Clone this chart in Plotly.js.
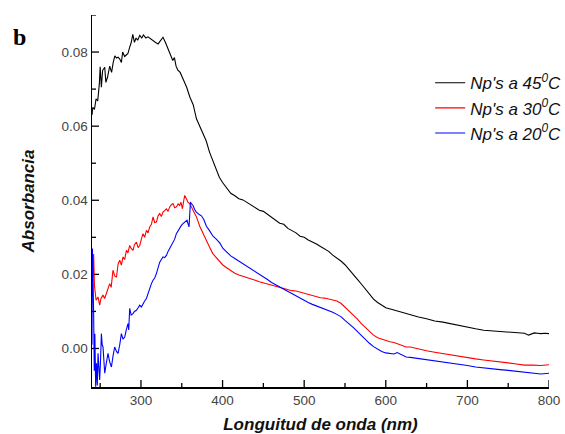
<!DOCTYPE html>
<html>
<head>
<meta charset="utf-8">
<script src="https://cdn.plot.ly/plotly-3.0.1.min.js"></script>
<style>html,body{margin:0;padding:0;background:#fff;}#chart{width:565px;height:434px;}</style>
</head>
<body>
<div id="chart"></div>
<script>
// ---- Data ----
var seriesNames = ["Np's a 45<sup>0</sup>C", "Np's a 30<sup>0</sup>C", "Np's a 20<sup>0</sup>C"];

var x45 = [240,241,243,245,247,249,250,251.5,253,255.6,257,259,261.7,264,266,268,270,272,274,276,277.6,280,282,284,286,288,290,292,294,296,298.5,301,303,304.6,306,308.6,312,314.8,318,321,324,327,330,333,336,339,341,343,345,348,352,356,360,364,368,372,376,380,384,388,392,396,400,405,410,415,420,425,430,435,440,445,450,455,460,465,470,475,480,485,490,495,500,505,510,515,520,525,530,535,540,545,550,555,560,565,570,575,580,585,590,595,600,610,620,630,640,650,660,670,680,690,700,710,720,730,740,750,760,770,775,778,782,786,790,795,800];
var y45 = [0.0630,0.0651,0.0645,0.0674,0.0668,0.0714,0.0760,0.0705,0.0750,0.0759,0.0718,0.0732,0.0762,0.0745,0.0772,0.0790,0.0784,0.0786,0.0781,0.0772,0.0800,0.0788,0.0792,0.0796,0.0812,0.0825,0.0848,0.0826,0.0838,0.0832,0.0845,0.0838,0.0846,0.0843,0.0838,0.0841,0.0835,0.0831,0.0826,0.0822,0.0830,0.0840,0.0826,0.0808,0.0795,0.0777,0.0785,0.0762,0.0752,0.0745,0.0725,0.0705,0.0678,0.0658,0.0620,0.0600,0.0578,0.0560,0.0530,0.0508,0.0482,0.0462,0.0448,0.0432,0.0419,0.0412,0.0404,0.0401,0.0394,0.0388,0.0381,0.0373,0.0370,0.0362,0.0353,0.0347,0.0338,0.0335,0.0324,0.0318,0.0312,0.0303,0.0300,0.0293,0.0288,0.0282,0.0275,0.0268,0.0262,0.0252,0.0245,0.0236,0.0226,0.0214,0.0200,0.0187,0.0174,0.0160,0.0146,0.0133,0.0124,0.0116,0.0110,0.0104,0.0097,0.0091,0.0085,0.0080,0.0074,0.0071,0.0066,0.0061,0.0057,0.0053,0.0049,0.0047,0.0045,0.0044,0.0042,0.0041,0.0036,0.0038,0.0042,0.0041,0.0040,0.0041,0.0040];

var x30 = [240,241,242,243,245,247.4,249.4,251,253.5,255.5,257.6,259.5,261.7,263.5,265.7,268,270,272,274,276,278,280,282.2,284,286.2,288,290.2,292,294.4,296.5,298.5,300.5,302.5,304.5,306.7,308.7,310.7,312.8,314.8,316.8,318.9,321,323,325,327,329,331.2,333.2,335.2,337.3,339.3,341.3,343.4,345.5,347.5,349,350.8,352.5,353.6,355.5,357.6,360,362,365,368,372,376,380,384,388,392,396.5,400,405,410,415,420,425,430,435,440,445,450,455,460,465,470,475,480,485,490,495,500,505,510,515,520,525,530,535,540,545,550,555,560,565,570,575,580,585,590,595,600,605,610,615,620,625,630,640,650,660,670,680,690,700,710,720,730,740,750,760,770,780,790,800];
var y30 = [0.0139,0.0200,0.0255,0.0170,0.0130,0.0139,0.0117,0.0135,0.0144,0.0135,0.0148,0.0160,0.0175,0.0165,0.0211,0.0195,0.0193,0.0228,0.0238,0.0225,0.0247,0.0240,0.0265,0.0258,0.0278,0.0270,0.0265,0.0280,0.0287,0.0272,0.0278,0.0295,0.0310,0.0300,0.0319,0.0312,0.0328,0.0335,0.0355,0.0340,0.0341,0.0358,0.0364,0.0356,0.0368,0.0372,0.0377,0.0370,0.0382,0.0388,0.0391,0.0380,0.0382,0.0390,0.0386,0.0395,0.0377,0.0400,0.0413,0.0405,0.0395,0.0390,0.0382,0.0370,0.0355,0.0330,0.0310,0.0292,0.0274,0.0256,0.0246,0.0235,0.0226,0.0218,0.0210,0.0203,0.0198,0.0195,0.0191,0.0188,0.0184,0.0180,0.0177,0.0174,0.0170,0.0168,0.0166,0.0162,0.0158,0.0156,0.0155,0.0152,0.0149,0.0146,0.0142,0.0139,0.0137,0.0136,0.0133,0.0131,0.0128,0.0122,0.0112,0.0100,0.0090,0.0080,0.0067,0.0056,0.0046,0.0036,0.0029,0.0025,0.0021,0.0018,0.0016,0.0012,0.0008,0.0004,0.0004,-0.0002,-0.0006,-0.0010,-0.0014,-0.0018,-0.0022,-0.0025,-0.0028,-0.0031,-0.0033,-0.0036,-0.0039,-0.0042,-0.0045,-0.0045,-0.0046,-0.0044];

var x20 = [240,240.5,241.2,242,242.8,243.5,244.5,245.5,246.5,247.4,248.3,249.4,250.5,251.5,252.5,253.5,254.5,255.6,257.5,259.6,261.5,263.8,265.8,267.8,270,271.9,274,276,278,280.1,282,284.1,285,286.2,288,290.2,292,294.4,296.5,298.5,300.5,302.5,304.5,306.7,308.7,310.7,312.8,314.8,316.8,318.9,321,323,325,327,329,331.2,333.2,335.2,337.3,339.3,341.3,343.4,345.5,347.5,349.5,351.5,354,356.4,358.9,360.6,362,363.8,365.8,367.9,371,374.1,377,380.2,384,388.3,392,396.5,400.5,405,410,415,420,425,430,435,440,445,450,455,460,465,470,475,480,485,490,495,500,505,510,515,520,525,530,535,540,545,550,555,560,565,570,575,580,585,590,595,600,605,610,614,617,620,625,630,640,650,660,670,680,690,700,710,720,730,740,750,760,770,780,790,800];
var y20 = [0.0010,0.0270,0.0200,0.0094,-0.0060,0.0040,-0.0103,-0.0040,-0.0100,-0.0013,-0.0050,-0.0085,-0.0030,0.0040,0.0010,0.0004,-0.0030,-0.0067,-0.0040,-0.0013,-0.0035,-0.0050,-0.0020,0.0004,-0.0008,-0.0013,0.0010,0.0040,0.0025,0.0031,0.0050,0.0067,0.0050,0.0108,0.0090,0.0094,0.0100,0.0103,0.0110,0.0117,0.0112,0.0121,0.0128,0.0135,0.0150,0.0166,0.0175,0.0184,0.0190,0.0202,0.0218,0.0233,0.0240,0.0247,0.0245,0.0251,0.0262,0.0270,0.0275,0.0283,0.0295,0.0310,0.0318,0.0328,0.0332,0.0337,0.0342,0.0346,0.0328,0.0395,0.0390,0.0386,0.0375,0.0368,0.0362,0.0358,0.0348,0.0330,0.0318,0.0303,0.0296,0.0285,0.0270,0.0260,0.0250,0.0243,0.0236,0.0229,0.0222,0.0215,0.0209,0.0200,0.0193,0.0186,0.0178,0.0172,0.0166,0.0160,0.0152,0.0146,0.0140,0.0135,0.0130,0.0124,0.0119,0.0115,0.0111,0.0108,0.0103,0.0098,0.0092,0.0086,0.0076,0.0067,0.0057,0.0046,0.0035,0.0024,0.0014,0.0005,-0.0002,-0.0008,-0.0012,-0.0014,-0.0015,-0.0011,-0.0014,-0.0019,-0.0023,-0.0024,-0.0027,-0.0029,-0.0032,-0.0035,-0.0038,-0.0042,-0.0046,-0.0050,-0.0053,-0.0055,-0.0057,-0.0059,-0.0061,-0.0063,-0.0066,-0.0069,-0.0067];

var xRange = [240, 800], yRange = [-0.0104, 0.09];
var xMajorTicks = [300,400,500,600,700,800];
var xMinorTicks = [250,350,450,550,650,750];
var yMajorTicks = [0.00,0.02,0.04,0.06,0.08];
var yMajorText = ["0.00","0.02","0.04","0.06","0.08"];
var yMinorTicks = [0.01,0.03,0.05,0.07,0.09];

// ---- Plot ----
var W = 565, H = 434, M = {l:92, r:16, t:15, b:47};
var plotW = W - M.l - M.r, plotH = H - M.t - M.b;
var xPerPx = (xRange[1] - xRange[0]) / plotW, yPerPx = (yRange[1] - yRange[0]) / plotH;

// inside tick marks, built from the tick arrays and placed through the axes' scales
function tickTrace(xs, ys){
  return {x:xs, y:ys, type:'scatter', mode:'lines', line:{color:'#000', width:1.3},
          showlegend:false, hoverinfo:'skip', cliponaxis:false};
}
var tx = [], ty = [];
function addX(v, len){ tx.push(v, v, null); ty.push(yRange[0], yRange[0] + len * yPerPx, null); }
function addY(v, len){ tx.push(xRange[0], xRange[0] + len * xPerPx, null); ty.push(v, v, null); }
xMajorTicks.forEach(function(v){ addX(v, 7); });
xMinorTicks.forEach(function(v){ addX(v, 4); });
yMajorTicks.forEach(function(v){ addY(v, 7); });
yMinorTicks.forEach(function(v){ addY(v, 4); });

var colors = ["#000000","#ff0000","#0000ff"];
var traces = [
  tickTrace(tx, ty),
  {x:x45, y:y45, name:seriesNames[0], type:'scatter', mode:'lines', line:{color:colors[0], width:1.1}},
  {x:x30, y:y30, name:seriesNames[1], type:'scatter', mode:'lines', line:{color:colors[1], width:1.1}},
  {x:x20, y:y20, name:seriesNames[2], type:'scatter', mode:'lines', line:{color:colors[2], width:1.1}}
];

var axisFont = {family:'Liberation Sans, Arial, sans-serif', size:13.5, color:'#444'};
var titleFont = {family:'Liberation Sans, Arial, sans-serif', size:17, color:'#111', weight:'bold', style:'italic'};

var layout = {
  width:W, height:H,
  margin:{l:M.l, r:M.r, t:M.t, b:M.b, autoexpand:false},
  showlegend:true,
  legend:{x:0.740, y:0.865, xanchor:'left', yanchor:'top', bgcolor:'rgba(0,0,0,0)', borderwidth:0,
          font:{family:'Liberation Sans, Arial, sans-serif', size:17, color:'#111', style:'italic'},
          tracegroupgap:0},
  xaxis:{range:xRange, showgrid:false, zeroline:false, showline:true, linecolor:'#000', linewidth:1.5,
         tickmode:'array', tickvals:xMajorTicks, ticks:'',
         tickfont:axisFont,
         title:{text:'Longuitud de onda (nm)', font:titleFont, standoff:12}},
  yaxis:{range:yRange, showgrid:false, zeroline:false, showline:true, linecolor:'#000', linewidth:1.5,
         tickmode:'array', tickvals:yMajorTicks, ticktext:yMajorText, ticks:'',
         tickfont:axisFont,
         title:{text:'Absorbancia', font:titleFont, standoff:22}},
  annotations:[{text:'<b>b</b>', xref:'paper', yref:'paper', x:-0.159, y:0.94, xanchor:'center', yanchor:'middle',
                showarrow:false, font:{family:'Liberation Serif, Times New Roman, serif', size:24, color:'#000'}}]
};

Plotly.newPlot('chart', traces, layout, {displayModeBar:false, staticPlot:true});
</script>
</body>
</html>
